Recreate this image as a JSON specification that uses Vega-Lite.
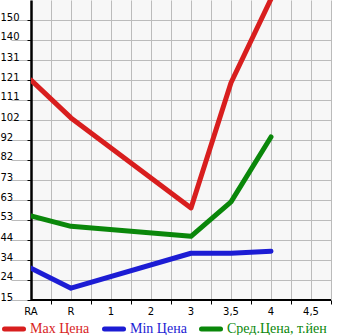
{
  "$schema": "https://vega.github.io/schema/vega-lite/v6.json",
  "width": 300,
  "height": 300,
  "autosize": {"type": "none"},
  "padding": {"left": 31, "top": 0, "right": 14, "bottom": 35},
  "background": "white",
  "config": {
    "view": {"fill": "#f7f7f7", "stroke": null}
  },
  "data": {
    "values": [
      {"series": "Max Цена", "cat": "RA", "value": 121.3},
      {"series": "Max Цена", "cat": "R", "value": 103},
      {"series": "Max Цена", "cat": "3", "value": 59.5},
      {"series": "Max Цена", "cat": "3,5", "value": 120},
      {"series": "Max Цена", "cat": "4", "value": 160.5},
      {"series": "Min Цена", "cat": "RA", "value": 30.4},
      {"series": "Min Цена", "cat": "R", "value": 20.7},
      {"series": "Min Цена", "cat": "3", "value": 37.6},
      {"series": "Min Цена", "cat": "3,5", "value": 37.6},
      {"series": "Min Цена", "cat": "4", "value": 38.6},
      {"series": "Сред.Цена, т.йен", "cat": "RA", "value": 55.6},
      {"series": "Сред.Цена, т.йен", "cat": "R", "value": 50.6},
      {"series": "Сред.Цена, т.йен", "cat": "3", "value": 45.8},
      {"series": "Сред.Цена, т.йен", "cat": "3,5", "value": 62.4},
      {"series": "Сред.Цена, т.йен", "cat": "4", "value": 93.8}
    ]
  },
  "resolve": {"axis": {"x": "independent"}},
  "layer": [
    {
      "mark": {"type": "line", "strokeWidth": 5, "strokeCap": "round", "strokeJoin": "round", "clip": true},
      "encoding": {
        "x": {
          "field": "cat",
          "type": "ordinal",
          "scale": {"type": "band", "domain": ["RA", "R", "1", "2", "3", "3,5", "4", "4,5"], "range": [-20, 300], "paddingInner": 0, "paddingOuter": 0},
          "axis": {"orient": "bottom", "bandPosition": 0.5, "labels": true, "ticks": false, "labelPadding": 6, "labelAngle": 0, "grid": true, "gridColor": "#bbbbbb", "gridWidth": 1, "gridOpacity": 1, "domain": false, "title": null, "labelFont": "DejaVu Sans", "labelFontSize": 10, "labelColor": "black"}
        },
        "y": {
          "field": "value",
          "type": "quantitative",
          "scale": {"domain": [15, 160], "nice": false, "zero": false},
          "axis": {
            "values": [15, 24.6667, 34.3333, 44, 53.6667, 63.3333, 73, 82.6667, 92.3333, 102, 111.6667, 121.3333, 131, 140.6667, 150.3333],
            "labelExpr": "floor(datum.value)",
            "grid": true,
            "gridColor": "#bbbbbb",
            "gridWidth": 1,
            "gridOpacity": 1,
            "ticks": true,
            "tickSize": 4,
            "tickColor": "black",
            "tickWidth": 1,
            "domain": true,
            "domainColor": "black",
            "domainWidth": 2.5,
            "labelAlign": "left",
            "labelBaseline": "middle",
            "labelPadding": 27,
            "labelOffset": -3,
            "labelOverlap": false,
            "labelFont": "DejaVu Sans",
            "labelFontSize": 10,
            "labelColor": "black",
            "title": null
          }
        },
        "color": {
          "field": "series",
          "type": "nominal",
          "scale": {"domain": ["Max Цена", "Min Цена", "Сред.Цена, т.йен"], "range": ["#d81e1e", "#1c1cd4", "#0a870a"]},
          "legend": {
            "orient": "none",
            "legendX": -29,
            "legendY": 317,
            "direction": "horizontal",
            "columns": 3,
            "title": null,
            "padding": 0,
            "symbolType": "stroke",
            "symbolSize": 361,
            "symbolStrokeWidth": 5,
            "labelFont": "Liberation Serif",
            "labelFontSize": 14,
            "labelOffset": 4,
            "columnPadding": 4,
            "encode": {
              "labels": {"update": {"fill": {"scale": "color", "field": "value"}}},
              "symbols": {"update": {"strokeCap": {"value": "round"}}}
            }
          }
        }
      }
    },
    {
      "mark": {"type": "point", "opacity": 0},
      "encoding": {
        "x": {
          "field": "cat",
          "type": "ordinal",
          "scale": {"type": "band", "domain": ["RA", "R", "1", "2", "3", "3,5", "4", "4,5"], "range": [-20, 300], "paddingInner": 0, "paddingOuter": 0},
          "axis": {"orient": "bottom", "values": ["R", "1", "2", "3", "3,5", "4", "4,5"], "bandPosition": 0, "labels": false, "ticks": true, "tickSize": 4, "tickColor": "black", "tickWidth": 1, "grid": true, "gridColor": "#bbbbbb", "gridWidth": 1, "gridOpacity": 1, "domain": false, "title": null}
        }
      }
    },
    {
      "mark": {"type": "point", "opacity": 0},
      "encoding": {
        "x": {
          "field": "cat",
          "type": "ordinal",
          "scale": {"type": "band", "domain": ["RA", "R", "1", "2", "3", "3,5", "4", "4,5"], "range": [-20, 300], "paddingInner": 0, "paddingOuter": 0},
          "axis": {"orient": "bottom", "values": ["4,5"], "bandPosition": 1, "labels": false, "ticks": true, "tickSize": 4, "tickColor": "black", "tickWidth": 1, "grid": true, "gridColor": "#bbbbbb", "gridWidth": 1, "gridOpacity": 1, "domain": false, "title": null}
        }
      }
    },
    {
      "mark": {"type": "rule", "color": "black", "strokeWidth": 2},
      "encoding": {
        "y": {
          "datum": 15,
          "type": "quantitative",
          "axis": {
            "values": [15, 24.6667, 34.3333, 44, 53.6667, 63.3333, 73, 82.6667, 92.3333, 102, 111.6667, 121.3333, 131, 140.6667, 150.3333],
            "labelExpr": "floor(datum.value)",
            "grid": true,
            "gridColor": "#bbbbbb",
            "gridWidth": 1,
            "gridOpacity": 1,
            "ticks": true,
            "tickSize": 4,
            "tickColor": "black",
            "tickWidth": 1,
            "domain": true,
            "domainColor": "black",
            "domainWidth": 2.5,
            "labelAlign": "left",
            "labelBaseline": "middle",
            "labelPadding": 27,
            "labelOffset": -3,
            "labelOverlap": false,
            "labelFont": "DejaVu Sans",
            "labelFontSize": 10,
            "labelColor": "black",
            "title": null
          }
        }
      }
    }
  ]
}
